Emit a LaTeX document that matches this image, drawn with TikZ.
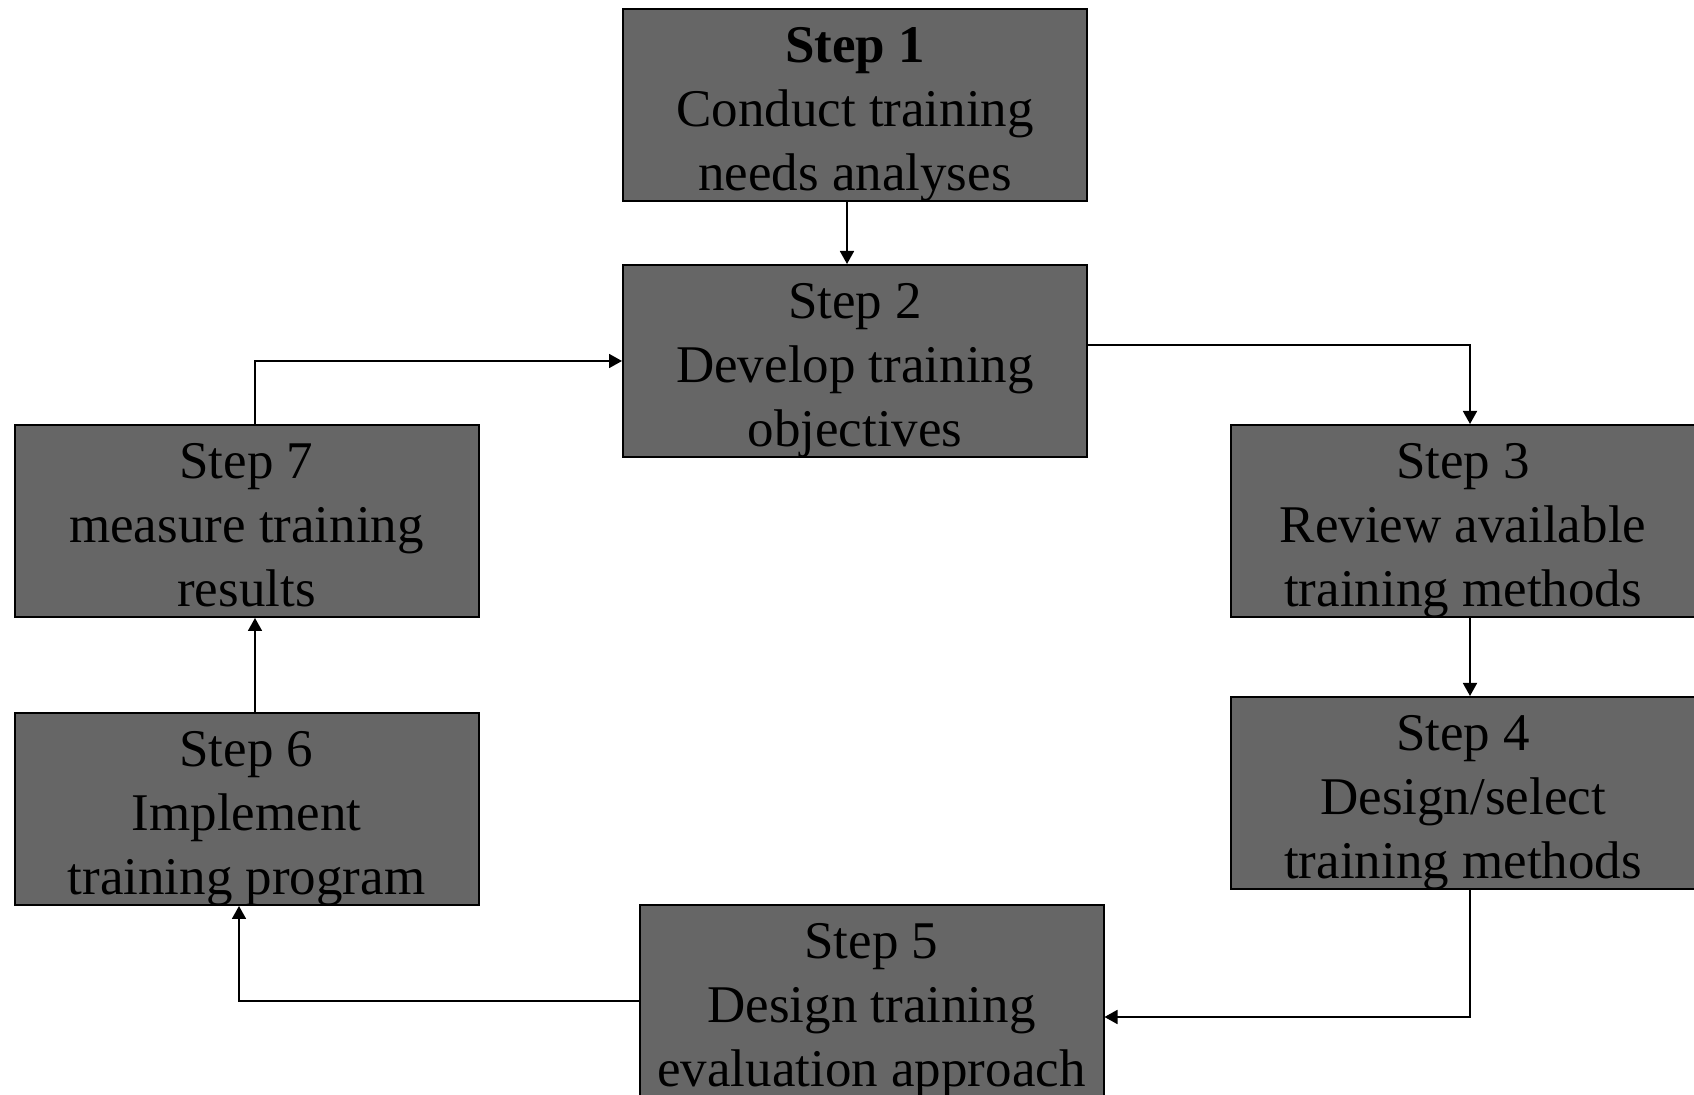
\documentclass[tikz,border=0pt]{standalone}
\usepackage{fontspec}
\setmainfont{Liberation Serif}
\usetikzlibrary{arrows.meta}

% three centred lines, lowered a little inside the box
\newcommand{\stepcell}[1]{\raisebox{-4.3pt}[\height][\depth]{\begin{tabular}{@{}c@{}}#1\end{tabular}}}

\begin{document}
\begin{tikzpicture}[x=0.5pt,y=-0.5pt]

%Define box parameters
\def\bw{232pt}         %Box width.
\def\bh{96pt}          %Box height.
\tikzset{
  stepbox/.style={draw=black, line width=1pt, fill=boxgray,
    minimum width=\bw, minimum height=\bh, inner sep=0pt,
    font=\fontsize{26.5}{32}\selectfont},
  arr/.style={line width=0.9pt, -{Triangle[length=6.5pt,width=7pt]}}
}
\definecolor{boxgray}{RGB}{102,102,102}

% Canvas
\clip (0,0) rectangle (1694,1095);

% Steps
\node[stepbox] (s1) at (855,105)   {\stepcell{\textbf{Step 1}\\Conduct training\\needs analyses}};
\node[stepbox] (s2) at (855,361)   {\stepcell{Step 2\\Develop training\\objectives}};
\node[stepbox] (s3) at (1463,521)  {\stepcell{Step 3\\Review available\\training methods}};
\node[stepbox] (s4) at (1463,793)  {\stepcell{Step 4\\Design/select\\training methods}};
\node[stepbox] (s5) at (871.5,1001) {\stepcell{Step 5\\Design training\\evaluation approach}};
\node[stepbox] (s6) at (246.5,809) {\stepcell{Step 6\\Implement\\training program}};
\node[stepbox] (s7) at (246.5,521) {\stepcell{Step 7\\measure training\\results}};

% Connectors
\draw[arr] ([xshift=-4pt]s1.south) -- ([xshift=-4pt]s2.north);
\draw[arr] ([yshift=8pt]s2.east) -| ([xshift=3.5pt]s3.north);
\draw[arr] ([xshift=3.5pt]s3.south) -- ([xshift=3.5pt]s4.north);
\draw[arr] ([xshift=3.5pt]s4.south) |- ([yshift=-8pt]s5.east);
\draw[arr] (s5.west) -| ([xshift=-3.75pt]s6.south);
\draw[arr] ([xshift=4.25pt]s6.north) -- ([xshift=4.25pt]s7.south);
\draw[arr] ([xshift=4.25pt]s7.north) |- (s2.west);

\end{tikzpicture}
\end{document}
